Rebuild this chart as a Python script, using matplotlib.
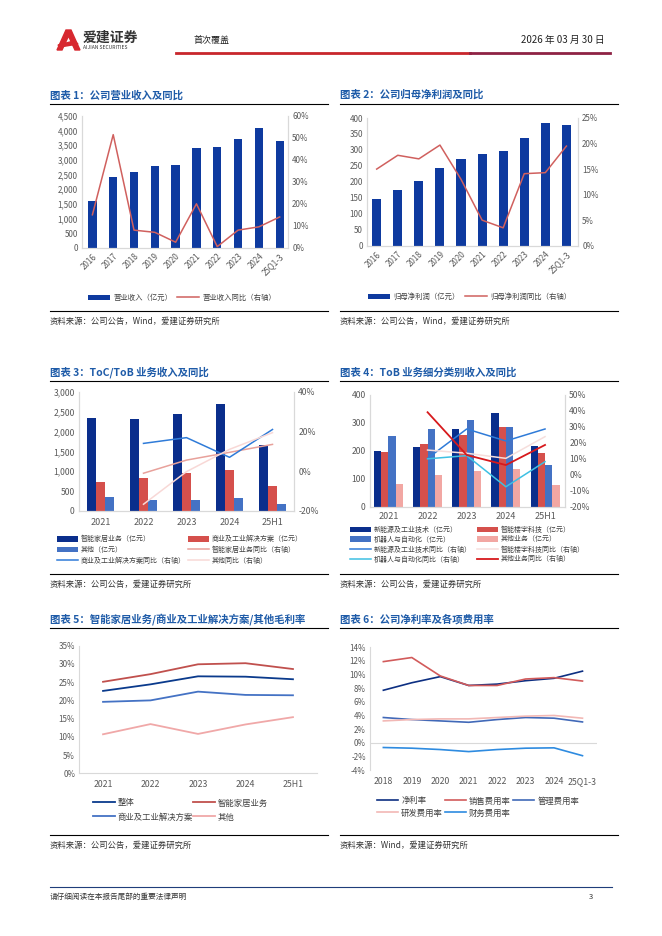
import matplotlib
matplotlib.use("Agg")
import matplotlib.pyplot as plt
from matplotlib.lines import Line2D
from matplotlib.patches import Polygon
from matplotlib.ticker import FuncFormatter, MultipleLocator

plt.rcParams['font.family'] = ['Noto Sans CJK SC', 'DejaVu Sans']
plt.rcParams['axes.unicode_minus'] = False

W, H = 662, 936

# ---- data ----
years_a = ['2016', '2017', '2018', '2019', '2020', '2021', '2022', '2023', '2024', '25Q1-3']
revenue = [1590, 2410, 2600, 2790, 2840, 3410, 3440, 3720, 4080, 3630]
revenue_yoy = [15.0, 51.5, 8.0, 7.0, 2.5, 20.0, 0.5, 8.0, 9.5, 14.0]
net_profit = [146, 173, 202, 242, 272, 286, 296, 337, 385, 379]
net_profit_yoy = [15.0, 17.7, 17.0, 19.7, 13.0, 5.0, 3.5, 14.1, 14.3, 19.5]

years_b = ['2021', '2022', '2023', '2024', '25H1']
home_rev = [2340, 2320, 2450, 2690, 1660]
biz_rev = [720, 820, 960, 1030, 620]
other_rev = [340, 270, 270, 320, 180]
home_yoy = [None, -1.0, 5.6, 9.5, 13.5]
biz_yoy = [None, 14.0, 16.9, 7.0, 21.0]
other_yoy = [None, -16.6, -0.2, 11.0, 19.4]

energy_rev = [200, 214, 278, 334, 219]
building_rev = [195, 226, 258, 284, 193]
robot_rev = [252, 277, 310, 285, 150]
tob_other_rev = [80, 114, 128, 136, 78]
energy_yoy = [None, 10.3, 28.7, 21.2, 28.7]
building_yoy = [None, 15.5, 13.5, 10.3, 23.9]
robot_yoy = [None, 10.0, 12.0, -7.5, 8.2]
tob_other_yoy = [None, 39.2, 12.4, 6.1, 18.7]

gm_total = [22.6, 24.4, 26.6, 26.5, 25.8]
gm_home = [25.1, 27.2, 29.9, 30.2, 28.6]
gm_biz = [19.6, 20.0, 22.4, 21.5, 21.4]
gm_other = [10.7, 13.5, 10.8, 13.4, 15.4]

years_c = ['2018', '2019', '2020', '2021', '2022', '2023', '2024', '25Q1-3']
net_margin = [7.7, 8.8, 9.7, 8.4, 8.6, 9.1, 9.45, 10.5]
sales_rate = [11.9, 12.5, 9.8, 8.4, 8.4, 9.35, 9.55, 9.05]
admin_rate = [3.7, 3.4, 3.2, 3.0, 3.4, 3.7, 3.6, 3.05]
rd_rate = [3.2, 3.4, 3.5, 3.5, 3.7, 3.9, 4.0, 3.6]
fin_rate = [-0.7, -0.8, -1.0, -1.3, -1.0, -0.8, -0.75, -1.9]

TITLE_C = '#1E5BA8'
GRID_C = '#D9D9D9'
TICK_C = '#595959'
NAVY = '#0A2E8C'
BAR_BLUE = '#0E3A9F'
RED = '#D5504C'
MID_BLUE = '#4472C4'

fig = plt.figure(figsize=(W / 100, H / 100), dpi=100)


def box(x0, y0, x1, y1):
    return [x0 / W, 1 - y1 / H, (x1 - x0) / W, (y1 - y0) / H]


def hline(x0, x1, y, color='black', lw=0.8):
    fig.add_artist(Line2D([x0 / W, x1 / W], [1 - y / H, 1 - y / H], color=color, lw=lw))


def txt(x, y, s, **kw):
    fig.text(x / W, 1 - y / H, s, va='center', **kw)


def style(ax, right=False, size=5.8):
    for s in ['top', 'right', 'left', 'bottom']:
        ax.spines[s].set_color(GRID_C)
        ax.spines[s].set_linewidth(0.8)
    ax.spines['top'].set_visible(False)
    if not right:
        ax.spines['right'].set_visible(False)
    ax.tick_params(length=0, labelsize=size, colors=TICK_C, pad=3)


def leg(handle, label, x, y, hl=3.0, size=5):
    fig.legend([handle], [label], loc='center left', bbox_to_anchor=(x / W, 1 - y / H),
               frameon=False, fontsize=size, handlelength=hl, handleheight=0.8,
               handletextpad=0.4, borderpad=0, borderaxespad=0, labelcolor='#404040')


pct = FuncFormatter(lambda v, p: f'{v:.0f}%')
comma = FuncFormatter(lambda v, p: f'{v:,.0f}')


def section(x0, x1, y_title, title):
    txt(x0, y_title, title, color=TITLE_C, fontsize=7.5, fontweight='bold')
    hline(x0, x1, y_title + 8.5)


def source(x0, x1, y_line, s):
    hline(x0, x1, y_line)
    txt(x0, y_line + 10, s, color='#333333', fontsize=6)


# ---- header ----
fig.add_artist(Polygon([(57 / W, 1 - 50 / H), (66 / W, 1 - 30 / H), (71 / W, 1 - 30 / H),
                        (80 / W, 1 - 50 / H), (75 / W, 1 - 50 / H), (68.5 / W, 1 - 36 / H),
                        (62 / W, 1 - 50 / H)], closed=True, color='#D7282F',
                       transform=fig.transFigure))
fig.add_artist(Polygon([(58 / W, 1 - 45 / H), (74 / W, 1 - 41 / H), (78 / W, 1 - 44 / H),
                        (60 / W, 1 - 47 / H)], closed=True, color='#D7282F',
                       transform=fig.transFigure))
txt(83, 38, '爱建证券', color='#333333', fontsize=10, fontweight='bold')
txt(83, 47.5, 'AIJIAN SECURITIES', color='#333333', fontsize=3.6)
txt(194, 40, '首次覆盖', color='#222222', fontsize=6.5)
txt(605, 40, '2026 年 03 月 30 日', color='#222222', fontsize=7, ha='right')
hline(176, 470, 53, color='#C8262C', lw=2.0)
hline(470, 610, 53, color='#8E2244', lw=2.0)

# ---- chart 1 ----
section(50, 328, 95, '图表 1：公司营业收入及同比')
ax = fig.add_axes(box(82, 116, 288, 247.7))
style(ax, right=True)
x = range(len(years_a))
b1 = ax.bar(x, revenue, width=0.4, color=BAR_BLUE)
ax.set_ylim(0, 4500)
ax.yaxis.set_major_locator(MultipleLocator(500))
ax.yaxis.set_major_formatter(comma)
ax.set_xlim(-0.5, 9.4)
ax.set_xticks(list(x))
ax.set_xticklabels(years_a, rotation=45, ha='right', va='top', rotation_mode='anchor')
ax2 = ax.twinx()
style(ax2, right=True)
l1, = ax2.plot(x, revenue_yoy, color='#D0605E', lw=1.1)
ax2.set_ylim(0, 60)
ax2.yaxis.set_major_locator(MultipleLocator(10))
ax2.yaxis.set_major_formatter(pct)
leg(b1, '营业收入（亿元）', 88, 298, size=5.3)
leg(l1, '营业收入同比（右轴）', 177, 298, size=5.3)
source(50, 328, 311.5, '资料来源：公司公告，Wind，爱建证券研究所')

# ---- chart 2 ----
section(340, 618, 95, '图表 2：公司归母净利润及同比')
ax = fig.add_axes(box(367, 118, 578, 245.7))
style(ax, right=True)
b2 = ax.bar(x, net_profit, width=0.43, color=BAR_BLUE)
ax.set_ylim(0, 400)
ax.yaxis.set_major_locator(MultipleLocator(50))
ax.set_xlim(-0.46, 9.55)
ax.set_xticks(list(x))
ax.set_xticklabels(years_a, rotation=45, ha='right', va='top', rotation_mode='anchor')
ax2 = ax.twinx()
style(ax2, right=True)
l2, = ax2.plot(x, net_profit_yoy, color='#D0605E', lw=1.1)
ax2.set_ylim(0, 25)
ax2.yaxis.set_major_locator(MultipleLocator(5))
ax2.yaxis.set_major_formatter(pct)
leg(b2, '归母净利润（亿元）', 368, 297, size=5.3)
leg(l2, '归母净利润同比（右轴）', 465, 297, size=5.3)
source(340, 618, 311.5, '资料来源：公司公告，Wind，爱建证券研究所')

# ---- chart 3 ----
section(50, 328, 372.5, '图表 3：ToC/ToB 业务收入及同比')
ax = fig.add_axes(box(79, 391.7, 294, 511))
style(ax, right=True, size=6.2)
xb = list(range(len(years_b)))
w = 0.215
c1 = ax.bar([i - w for i in xb], home_rev, width=w, color=NAVY)
c2 = ax.bar(xb, biz_rev, width=w, color=RED)
c3 = ax.bar([i + w for i in xb], other_rev, width=w, color=MID_BLUE)
ax.set_ylim(0, 3000)
ax.yaxis.set_major_locator(MultipleLocator(500))
ax.yaxis.set_major_formatter(comma)
ax.set_xlim(-0.5, 4.5)
ax.set_xticks(xb)
ax.set_xticklabels(years_b, fontsize=6.5)
ax.tick_params(axis='x', pad=5)
ax2 = ax.twinx()
style(ax2, right=True, size=6.2)
m1, = ax2.plot(xb[1:], home_yoy[1:], color='#E8A19B', lw=1.1)
m2, = ax2.plot(xb[1:], biz_yoy[1:], color='#2F7BD8', lw=1.1)
m3, = ax2.plot(xb[1:], other_yoy[1:], color='#F8D8D6', lw=1.1)
ax2.set_ylim(-20, 40)
ax2.yaxis.set_major_locator(MultipleLocator(20))
ax2.yaxis.set_major_formatter(pct)
leg(c1, '智能家居业务（亿元）', 57, 539.3)
leg(c2, '商业及工业解决方案（亿元）', 188, 539.3)
leg(c3, '其他（亿元）', 57, 550)
leg(m1, '智能家居业务同比（右轴）', 188, 550)
leg(m2, '商业及工业解决方案同比（右轴）', 57, 560.5)
leg(m3, '其他同比（右轴）', 188, 560.5)
source(50, 328, 574.3, '资料来源：公司公告，爱建证券研究所')

# ---- chart 4 ----
section(340, 618, 372.5, '图表 4：ToB 业务细分类别收入及同比')
ax = fig.add_axes(box(370, 395, 565, 506.7))
style(ax, right=True, size=6.2)
w = 0.185
d1 = ax.bar([i - 1.5 * w for i in xb], energy_rev, width=w, color=NAVY)
d2 = ax.bar([i - 0.5 * w for i in xb], building_rev, width=w, color=RED)
d3 = ax.bar([i + 0.5 * w for i in xb], robot_rev, width=w, color=MID_BLUE)
d4 = ax.bar([i + 1.5 * w for i in xb], tob_other_rev, width=w, color='#F2A7A3')
ax.set_ylim(0, 400)
ax.yaxis.set_major_locator(MultipleLocator(100))
ax.set_xlim(-0.47, 4.51)
ax.set_xticks(xb)
ax.set_xticklabels(years_b, fontsize=6.5)
ax.tick_params(axis='x', pad=4)
ax2 = ax.twinx()
style(ax2, right=True, size=6.2)
n1, = ax2.plot(xb[1:], energy_yoy[1:], color='#2F7BD8', lw=1.1)
n2, = ax2.plot(xb[1:], building_yoy[1:], color='#F6DEDC', lw=1.1)
n3, = ax2.plot(xb[1:], robot_yoy[1:], color='#3EC0E3', lw=1.1)
n4, = ax2.plot(xb[1:], tob_other_yoy[1:], color='#D7191C', lw=1.3)
ax2.set_ylim(-20, 50)
ax2.yaxis.set_major_locator(MultipleLocator(10))
ax2.yaxis.set_major_formatter(pct)
leg(d1, '新能源及工业技术（亿元）', 350, 530)
leg(d2, '智能楼宇科技（亿元）', 477, 530)
leg(d3, '机器人与自动化（亿元）', 350, 539.5)
leg(d4, '其他业务（亿元）', 477, 539.5)
leg(n1, '新能源及工业技术同比（右轴）', 350, 549.5)
leg(n2, '智能楼宇科技同比（右轴）', 477, 549.5)
leg(n3, '机器人与自动化同比（右轴）', 350, 559.5)
leg(n4, '其他业务同比（右轴）', 477, 559.5)
source(340, 618, 574.3, '资料来源：公司公告，爱建证券研究所')

# ---- chart 5 ----
section(50, 328, 619, '图表 5：智能家居业务/商业及工业解决方案/其他毛利率')
ax = fig.add_axes(box(79.3, 645.7, 316.7, 773.3))
style(ax)
p1, = ax.plot(xb, gm_total, color='#0A3A8C', lw=1.3)
p2, = ax.plot(xb, gm_home, color='#C0504D', lw=1.3)
p3, = ax.plot(xb, gm_biz, color=MID_BLUE, lw=1.3)
p4, = ax.plot(xb, gm_other, color='#F0A8A8', lw=1.3)
ax.set_ylim(0, 35)
ax.yaxis.set_major_locator(MultipleLocator(5))
ax.yaxis.set_major_formatter(pct)
ax.set_xlim(-0.5, 4.5)
ax.set_xticks(xb)
ax.set_xticklabels(years_b, fontsize=6.3)
ax.tick_params(axis='x', pad=5)
leg(p1, '整体', 93, 803, hl=2.6, size=6)
leg(p2, '智能家居业务', 193, 803, hl=2.6, size=6)
leg(p3, '商业及工业解决方案', 93, 817, hl=2.6, size=6)
leg(p4, '其他', 193, 817, hl=2.6, size=6)
source(50, 328, 835, '资料来源：公司公告，爱建证券研究所')

# ---- chart 6 ----
section(340, 618, 619, '图表 6：公司净利率及各项费用率')
ax = fig.add_axes(box(370, 647.3, 596.7, 770))
style(ax)
ax.spines['bottom'].set_visible(False)
ax.axhline(0, color=GRID_C, lw=0.8)
xc = list(range(len(years_c)))
q1, = ax.plot(xc, net_margin, color='#0D2F82', lw=1.2)
q2, = ax.plot(xc, sales_rate, color='#D25B5B', lw=1.2)
q3, = ax.plot(xc, admin_rate, color='#4169B8', lw=1.2)
q4, = ax.plot(xc, rd_rate, color='#F2B8B5', lw=1.2)
q5, = ax.plot(xc, fin_rate, color='#2E8BE0', lw=1.2)
ax.set_ylim(-4, 14)
ax.yaxis.set_major_locator(MultipleLocator(2))
ax.yaxis.set_major_formatter(pct)
ax.set_xlim(-0.47, 7.5)
ax.set_xticks(xc)
ax.set_xticklabels(years_c, fontsize=6.3)
ax.tick_params(axis='x', pad=5)
leg(q1, '净利率', 377, 801, hl=2.5, size=6)
leg(q2, '销售费用率', 445, 801, hl=2.5, size=6)
leg(q3, '管理费用率', 513, 801, hl=2.5, size=6)
leg(q4, '研发费用率', 377, 813, hl=2.5, size=6)
leg(q5, '财务费用率', 445, 813, hl=2.5, size=6)
source(340, 618, 835, '资料来源：Wind，爱建证券研究所')

# ---- footer ----
hline(50, 612, 887, color='#1F3D7A', lw=0.8)
txt(50, 897, '请仔细阅读在本报告尾部的重要法律声明', color='#333333', fontsize=5.5)
txt(593, 897, '3', color='#333333', fontsize=5.5, ha='right')

fig.savefig('out.png', dpi=100)
